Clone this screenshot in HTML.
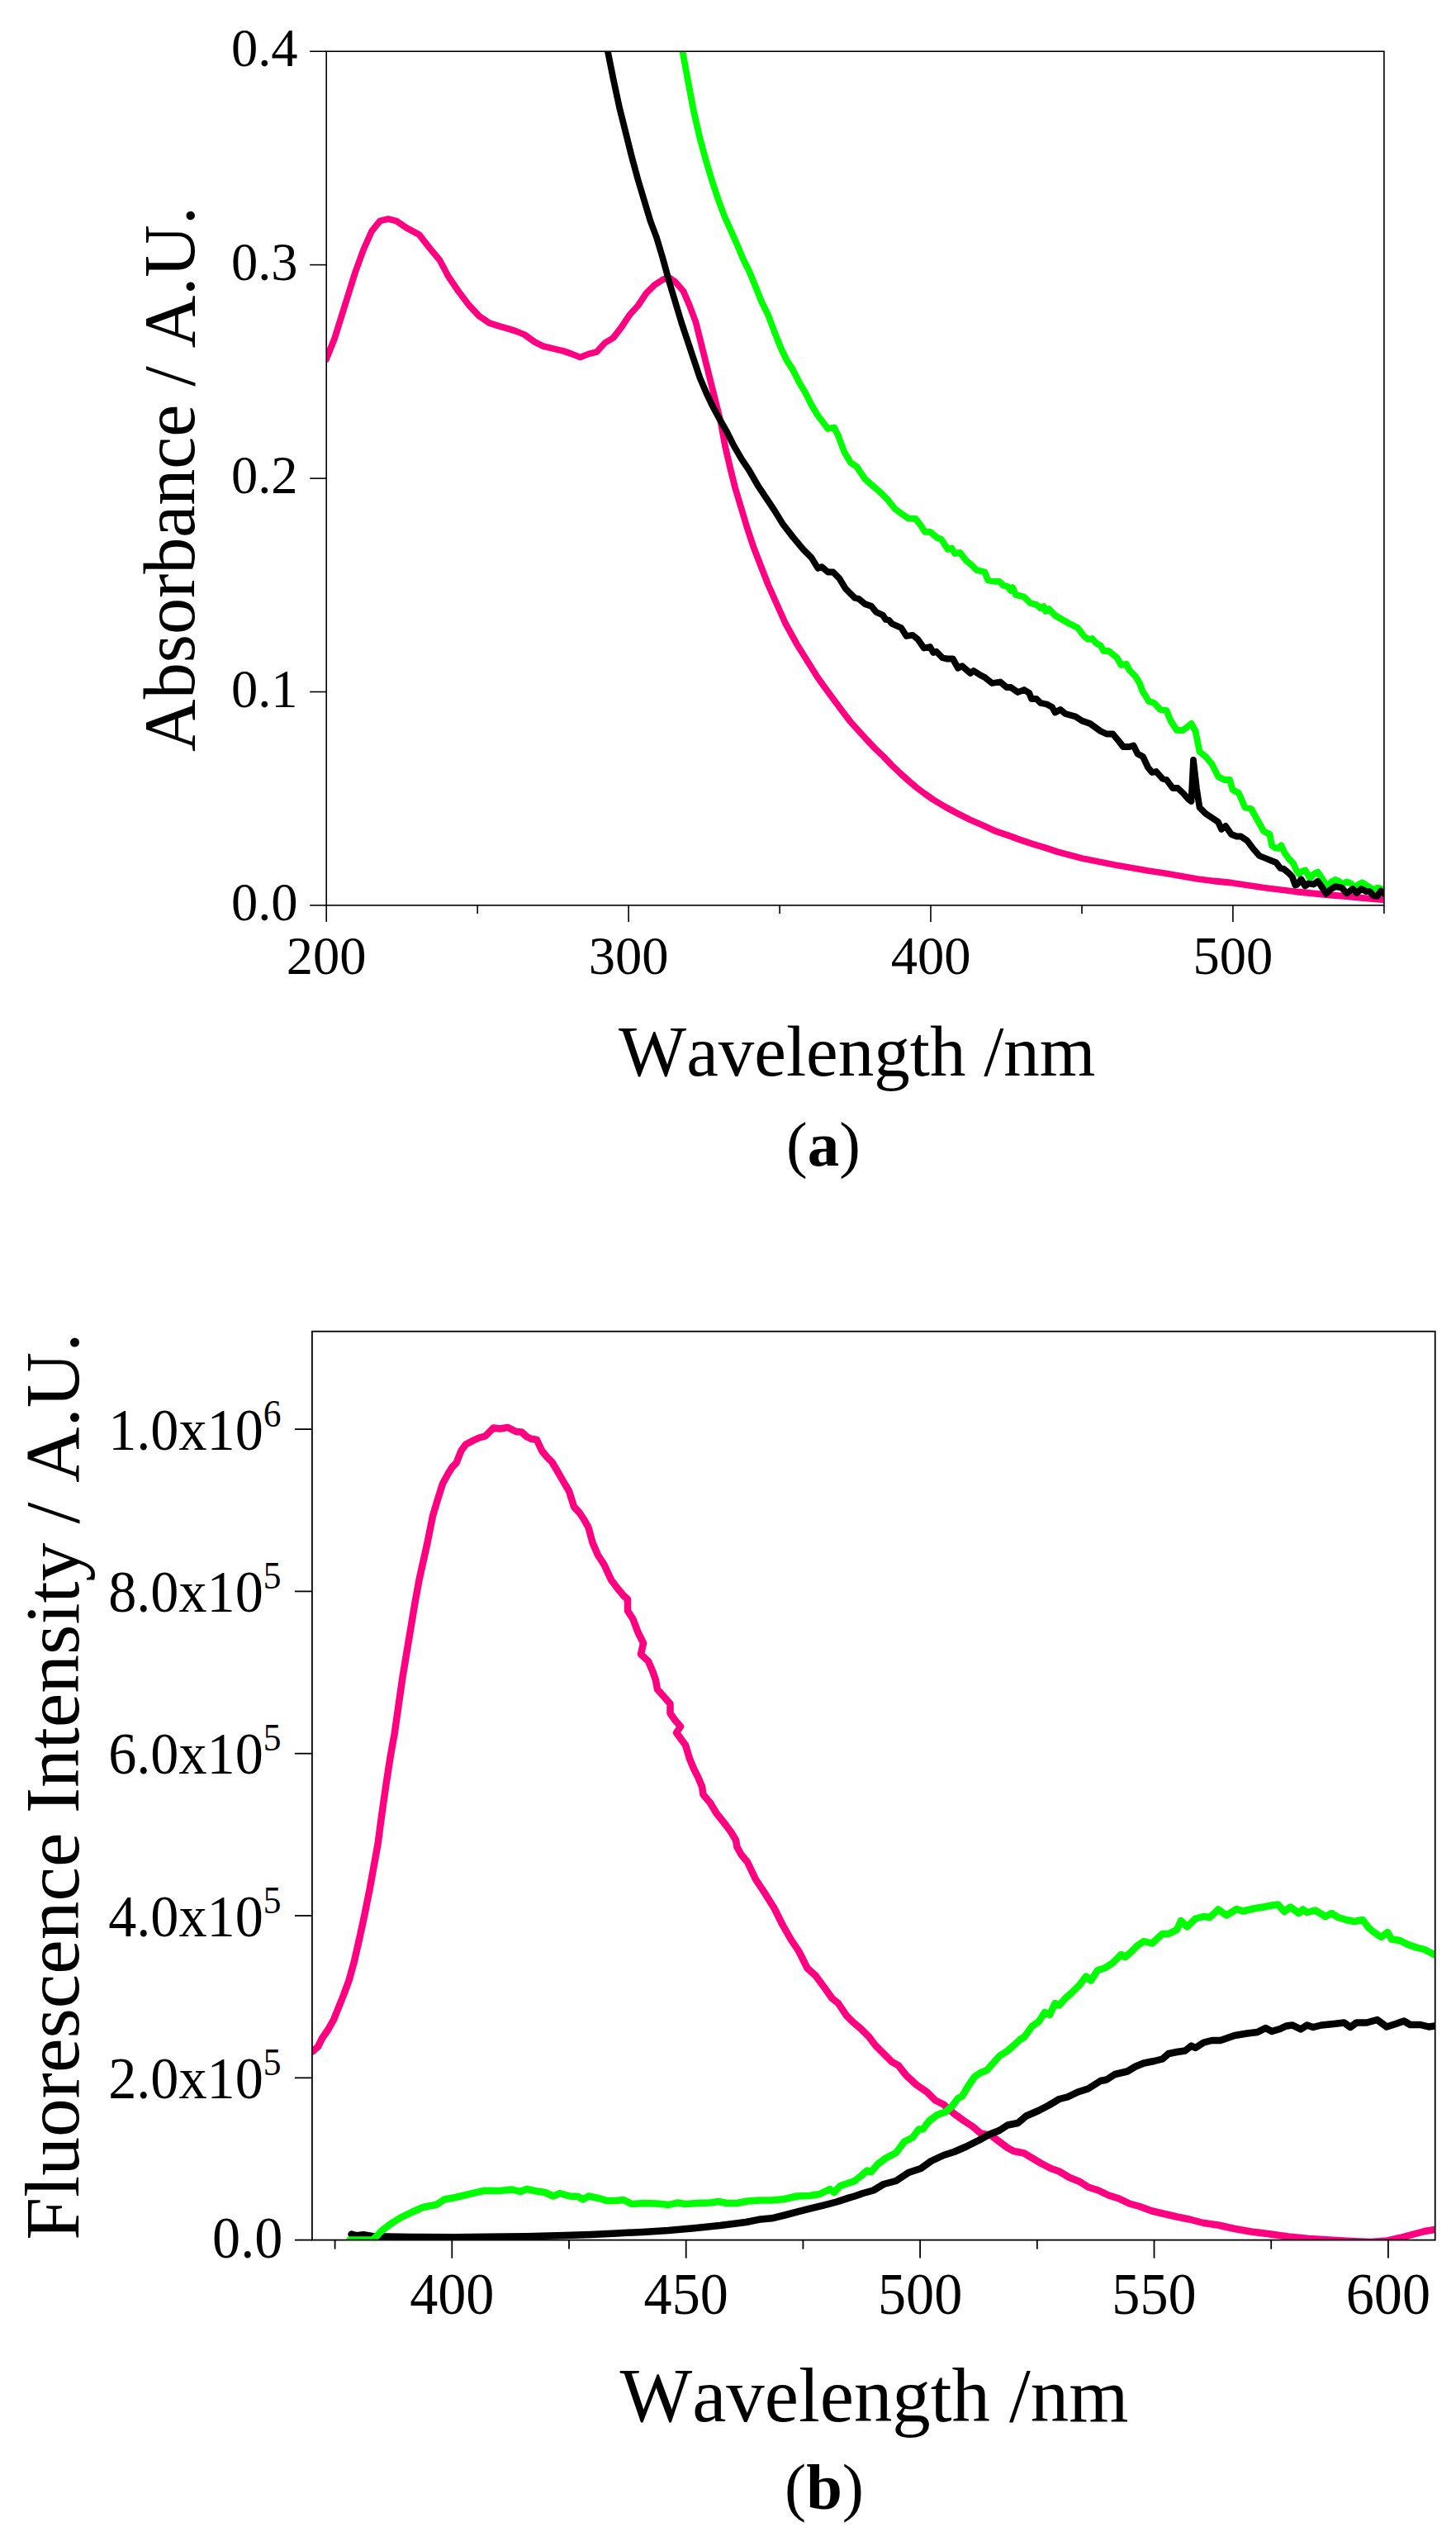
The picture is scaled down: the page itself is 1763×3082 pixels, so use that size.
<!DOCTYPE html>
<html lang="en"><head><meta charset="utf-8"><title>Absorbance and fluorescence spectra</title>
<style>html,body{margin:0;padding:0;background:#fff}svg{display:block}text{font-family:"Liberation Serif","Times New Roman",serif;fill:#000}</style></head><body>
<svg width="1763" height="3082" viewBox="0 0 1763 3082">
<rect width="1763" height="3082" fill="#fff"/>
<clipPath id="ca"><rect x="395.2" y="62.2" width="1280.7" height="1033.7"/></clipPath>
<g clip-path="url(#ca)" fill="none" stroke-linejoin="round" stroke-linecap="round" stroke-width="7.8">
<path d="M395.0,435.0 L405.0,410.0 L417.5,370.0 L430.0,330.0 L440.0,302.5 L450.0,280.0 L460.0,267.5 L470.0,265.0 L480.0,267.5 L492.5,276.0 L507.5,284.0 L520.0,300.0 L532.5,315.0 L542.5,334.0 L555.0,352.5 L567.5,369.0 L580.0,382.5 L592.5,391.0 L605.0,395.0 L617.5,398.5 L625.0,401.0 L635.0,405.0 L647.5,414.0 L657.5,419.0 L670.0,422.0 L682.5,425.0 L692.5,428.5 L702.5,432.5 L712.5,428.5 L722.5,426.0 L732.5,415.0 L742.5,409.0 L752.5,396.0 L762.5,381.0 L772.5,370.0 L782.5,355.0 L792.5,345.0 L802.5,338.5 L810.0,336.0 L817.5,341.0 L827.5,352.5 L835.0,370.0 L842.5,390.0 L850.0,420.0 L857.5,450.0 L865.0,480.0 L872.5,510.0 L878.0,540.0 L883.8,565.0 L890.0,590.0 L897.5,615.0 L905.0,640.0 L912.5,662.5 L921.2,685.0 L930.0,707.5 L940.0,730.0 L951.2,755.0 L965.0,780.0 L977.5,800.0 L990.0,820.0 L1000.0,834.0 L1010.0,847.5 L1020.0,861.0 L1030.0,874.0 L1040.0,885.0 L1050.0,896.0 L1060.0,906.5 L1070.0,916.0 L1080.0,926.5 L1090.0,936.0 L1100.0,945.0 L1110.0,953.5 L1120.0,961.0 L1130.0,968.0 L1145.0,977.0 L1160.0,985.0 L1175.0,992.5 L1190.0,999.0 L1205.0,1006.0 L1220.0,1011.0 L1235.0,1016.5 L1250.0,1021.5 L1265.0,1026.0 L1280.0,1031.0 L1295.0,1035.0 L1310.0,1039.0 L1330.0,1043.0 L1350.0,1047.0 L1370.0,1050.5 L1390.0,1054.0 L1410.0,1057.0 L1430.0,1060.5 L1450.0,1064.0 L1470.0,1066.5 L1490.0,1068.5 L1510.0,1071.5 L1530.0,1074.5 L1550.0,1077.0 L1570.0,1079.5 L1590.0,1081.5 L1610.0,1083.5 L1630.0,1085.0 L1650.0,1087.0 L1674.0,1089.0" stroke="#ff0080"/>
<path d="M826.5,62.5 L832.5,95.0 L840.0,135.0 L847.5,167.5 L855.0,195.0 L862.5,220.0 L870.0,242.5 L877.5,262.5 L885.0,279.0 L892.5,296.0 L900.0,314.0 L907.5,329.0 L915.0,347.5 L922.5,366.0 L930.0,381.0 L937.5,401.0 L945.0,420.0 L952.5,436.0 L960.0,447.5 L967.5,462.5 L975.0,475.0 L982.5,490.0 L990.0,502.5 L997.5,512.5 L1002.5,519.0 L1010.0,517.5 L1015.0,527.5 L1022.5,547.5 L1030.0,560.0 L1037.5,565.0 L1040.0,568.8 L1047.5,580.0 L1057.5,588.8 L1065.0,595.0 L1075.0,605.0 L1083.8,616.2 L1092.5,622.5 L1100.0,627.5 L1108.8,628.0 L1115.0,636.2 L1120.0,643.8 L1126.2,643.8 L1135.0,651.2 L1140.0,653.0 L1147.5,665.0 L1152.5,663.8 L1156.2,670.0 L1162.5,668.8 L1170.0,678.8 L1176.2,683.8 L1182.5,690.0 L1192.5,692.5 L1196.2,702.5 L1205.0,703.8 L1210.0,703.8 L1215.0,708.8 L1220.0,710.0 L1223.8,715.0 L1226.2,711.2 L1230.0,720.0 L1240.0,722.5 L1247.5,730.0 L1255.0,732.0 L1260.0,736.2 L1263.8,734.2 L1266.2,740.0 L1270.0,737.0 L1277.5,745.0 L1286.2,750.0 L1295.0,755.0 L1305.0,760.0 L1312.5,770.0 L1317.5,773.8 L1322.5,773.0 L1327.5,778.8 L1332.5,781.2 L1336.2,788.0 L1342.5,788.0 L1352.5,796.2 L1357.5,805.0 L1363.8,803.8 L1367.5,811.2 L1375.0,818.8 L1380.0,827.5 L1383.8,837.5 L1385.0,839.0 L1391.0,849.0 L1397.5,851.0 L1405.0,859.0 L1412.5,860.0 L1417.5,872.5 L1425.0,884.0 L1432.5,884.0 L1437.5,880.0 L1442.5,876.0 L1447.5,885.0 L1452.5,910.0 L1460.0,916.0 L1467.5,925.0 L1475.0,940.0 L1482.5,944.0 L1489.0,944.0 L1492.5,956.0 L1500.0,960.0 L1507.5,977.5 L1515.0,979.0 L1522.5,992.5 L1530.0,1006.0 L1537.5,1010.0 L1540.0,1023.6 L1544.1,1026.4 L1547.7,1027.0 L1551.3,1023.3 L1555.5,1032.4 L1560.6,1039.6 L1565.8,1044.7 L1569.9,1054.0 L1573.0,1058.1 L1576.1,1055.0 L1580.7,1053.5 L1584.3,1060.2 L1586.4,1063.3 L1590.5,1058.1 L1595.6,1055.5 L1600.8,1063.3 L1605.9,1071.5 L1608.0,1073.6 L1612.1,1067.4 L1616.8,1064.8 L1621.4,1066.9 L1625.5,1070.5 L1630.7,1067.4 L1635.8,1069.5 L1639.9,1074.6 L1645.1,1070.5 L1649.7,1068.4 L1654.4,1071.5 L1659.5,1074.6 L1663.6,1078.7 L1667.7,1074.6 L1671.9,1075.6 L1676.0,1078.7" stroke="#00ff00"/>
<path d="M736.0,62.5 L742.5,95.0 L750.0,130.0 L757.5,160.0 L765.0,190.0 L772.5,217.5 L780.0,242.5 L787.5,267.5 L795.0,287.5 L802.5,312.5 L810.0,340.0 L817.5,365.0 L825.0,390.0 L832.5,412.5 L840.0,435.0 L847.5,457.5 L855.0,475.0 L862.5,491.0 L870.0,505.0 L880.0,522.5 L888.8,540.0 L897.5,555.0 L907.5,570.0 L917.5,587.5 L927.5,602.5 L937.5,617.5 L947.5,633.8 L960.0,650.0 L972.5,665.0 L982.5,675.0 L990.5,688.0 L995.0,686.2 L1002.5,692.5 L1008.8,692.5 L1016.2,700.0 L1023.8,712.5 L1035.0,723.8 L1040.0,725.0 L1047.5,731.2 L1055.0,733.8 L1061.2,741.2 L1068.8,744.5 L1072.5,750.0 L1076.2,750.5 L1080.0,755.0 L1091.2,760.0 L1097.5,770.0 L1105.0,768.8 L1111.2,773.8 L1118.8,784.5 L1126.2,783.0 L1130.0,790.0 L1133.8,788.8 L1141.2,796.2 L1146.2,797.5 L1153.8,797.5 L1160.0,808.8 L1165.0,806.2 L1175.0,815.0 L1178.8,812.0 L1187.5,817.5 L1192.5,820.0 L1201.2,827.0 L1211.2,825.5 L1218.8,832.0 L1223.8,832.0 L1232.5,838.0 L1240.0,835.0 L1246.2,838.8 L1249.0,846.0 L1255.0,846.0 L1260.0,851.0 L1267.5,852.5 L1274.0,856.0 L1277.5,862.5 L1284.0,859.0 L1290.0,864.0 L1302.5,867.5 L1310.0,872.5 L1320.0,876.0 L1332.5,885.0 L1340.0,888.5 L1347.5,888.5 L1355.0,897.5 L1360.0,904.0 L1367.5,904.0 L1372.5,902.5 L1377.5,912.5 L1384.0,916.0 L1390.0,929.0 L1395.0,935.0 L1400.0,934.0 L1407.5,942.5 L1412.5,944.0 L1420.0,954.0 L1426.0,954.0 L1432.5,960.0 L1439.0,967.5 L1442.5,970.0 L1445.0,920.0 L1449.0,955.0 L1452.5,977.5 L1460.0,985.0 L1467.5,990.0 L1475.0,995.0 L1479.0,1004.0 L1484.0,1000.0 L1491.0,1010.0 L1497.5,1012.5 L1502.5,1012.5 L1510.0,1017.5 L1517.5,1027.5 L1525.0,1036.0 L1532.5,1039.0 L1540.0,1042.1 L1545.2,1044.2 L1550.3,1050.9 L1554.4,1051.9 L1559.6,1056.1 L1564.7,1061.2 L1568.3,1071.5 L1570.9,1070.5 L1575.5,1064.3 L1580.2,1072.5 L1584.3,1069.5 L1590.5,1070.5 L1595.6,1066.9 L1599.8,1072.5 L1605.9,1081.8 L1611.1,1076.7 L1616.8,1073.1 L1624.5,1074.6 L1630.7,1081.3 L1637.9,1076.1 L1643.0,1080.8 L1648.2,1076.1 L1654.4,1079.2 L1658.5,1079.2 L1663.6,1084.4 L1667.7,1084.9 L1671.9,1078.7 L1676.0,1081.8" stroke="#000"/>
</g>
<g stroke="#000" stroke-width="1.6" fill="none">
<rect x="395.2" y="62.2" width="1280.7" height="1033.7"/>
<line x1="375.2" y1="1095.9" x2="395.2" y2="1095.9"/>
<line x1="375.2" y1="837.5" x2="395.2" y2="837.5"/>
<line x1="375.2" y1="579.1" x2="395.2" y2="579.1"/>
<line x1="375.2" y1="320.6" x2="395.2" y2="320.6"/>
<line x1="375.2" y1="62.2" x2="395.2" y2="62.2"/>
<line x1="395.2" y1="1095.9" x2="395.2" y2="1115.9"/>
<line x1="578.2" y1="1095.9" x2="578.2" y2="1105.9"/>
<line x1="761.1" y1="1095.9" x2="761.1" y2="1115.9"/>
<line x1="944.1" y1="1095.9" x2="944.1" y2="1105.9"/>
<line x1="1127.0" y1="1095.9" x2="1127.0" y2="1115.9"/>
<line x1="1310.0" y1="1095.9" x2="1310.0" y2="1105.9"/>
<line x1="1492.9" y1="1095.9" x2="1492.9" y2="1115.9"/>
<line x1="1675.9" y1="1095.9" x2="1675.9" y2="1105.9"/>
</g>
<text x="360.6" y="1113.9" font-size="64.5" text-anchor="end">0.0</text>
<text x="360.6" y="855.5" font-size="64.5" text-anchor="end">0.1</text>
<text x="360.6" y="597.1" font-size="64.5" text-anchor="end">0.2</text>
<text x="360.6" y="338.6" font-size="64.5" text-anchor="end">0.3</text>
<text x="360.6" y="80.2" font-size="64.5" text-anchor="end">0.4</text>
<text x="395.2" y="1179" font-size="64.5" text-anchor="middle">200</text>
<text x="761.1" y="1179" font-size="64.5" text-anchor="middle">300</text>
<text x="1127.0" y="1179" font-size="64.5" text-anchor="middle">400</text>
<text x="1492.9" y="1179" font-size="64.5" text-anchor="middle">500</text>
<text x="1037.8" y="1302.4" font-size="87" text-anchor="middle" style="font-kerning:none">Wavelength /nm</text>
<text transform="translate(235,580) rotate(-90)" font-size="88" text-anchor="middle" style="font-kerning:none">Absorbance / A.U.</text>
<text x="997" y="1410.5" font-size="77" text-anchor="middle">(<tspan font-weight="bold">a</tspan>)</text>
<clipPath id="cb"><rect x="377.9" y="1611.7" width="1359.8000000000002" height="1099.8999999999999"/></clipPath>
<g clip-path="url(#cb)" fill="none" stroke-linejoin="round" stroke-linecap="round" stroke-width="8.5">
<path d="M378.5,2483.5 L385.0,2477.5 L390.0,2467.5 L397.5,2456.5 L404.0,2445.0 L410.0,2430.0 L416.0,2415.0 L422.5,2397.5 L429.0,2374.0 L435.0,2347.5 L441.0,2320.0 L447.5,2287.5 L452.5,2260.0 L457.5,2232.5 L462.5,2195.0 L467.5,2160.0 L472.5,2127.5 L476.5,2105.0 L477.5,2100.0 L482.5,2065.0 L487.5,2030.0 L492.5,2000.0 L497.5,1970.0 L502.5,1940.0 L507.5,1912.5 L512.5,1890.0 L517.5,1867.5 L524.0,1835.0 L530.0,1815.0 L536.0,1796.0 L542.5,1784.0 L547.5,1776.0 L552.5,1771.0 L558.5,1756.0 L564.0,1748.5 L572.5,1744.0 L580.0,1740.5 L587.5,1738.5 L597.5,1728.5 L605.0,1729.5 L615.0,1728.0 L625.0,1733.0 L631.5,1733.5 L637.5,1739.0 L642.5,1741.5 L650.0,1743.0 L656.0,1756.0 L662.5,1764.0 L668.5,1770.0 L675.0,1781.0 L682.5,1794.0 L689.0,1805.0 L695.0,1824.0 L701.5,1831.0 L707.5,1840.0 L712.5,1849.0 L717.5,1867.5 L724.0,1882.5 L731.5,1894.0 L740.0,1912.5 L747.5,1922.5 L755.0,1931.5 L760.0,1936.0 L760.0,1950.0 L766.5,1960.0 L772.5,1976.0 L779.0,1989.0 L776.0,2002.5 L785.0,2011.0 L790.0,2022.5 L794.0,2034.0 L796.0,2045.0 L804.0,2054.0 L811.5,2062.5 L811.5,2074.0 L817.5,2082.5 L824.0,2090.0 L819.0,2097.5 L830.0,2112.5 L835.0,2129.0 L840.0,2141.0 L845.0,2151.0 L850.0,2162.5 L851.5,2172.5 L860.0,2182.5 L867.5,2195.0 L877.5,2207.5 L885.0,2217.5 L891.0,2227.5 L892.5,2236.0 L897.5,2245.0 L905.0,2254.0 L915.0,2275.0 L925.0,2290.0 L937.5,2310.0 L947.5,2330.0 L957.5,2347.5 L967.5,2362.5 L977.5,2382.5 L987.5,2391.5 L997.5,2405.0 L1007.5,2419.0 L1015.0,2425.0 L1025.0,2440.0 L1032.5,2447.5 L1042.5,2456.0 L1052.5,2466.0 L1060.0,2476.0 L1070.0,2486.0 L1080.0,2496.0 L1087.5,2500.0 L1097.5,2512.5 L1110.0,2524.0 L1122.5,2532.5 L1132.5,2542.5 L1142.5,2547.5 L1155.0,2558.5 L1167.5,2567.5 L1177.5,2574.0 L1187.5,2582.5 L1200.0,2585.0 L1210.0,2592.5 L1220.0,2600.0 L1227.5,2604.0 L1240.0,2606.5 L1250.0,2612.5 L1260.0,2618.5 L1272.5,2625.0 L1282.5,2628.5 L1295.0,2636.0 L1307.5,2641.0 L1317.5,2647.5 L1330.0,2651.5 L1342.5,2657.5 L1355.0,2661.5 L1367.5,2667.5 L1380.0,2671.0 L1395.0,2676.5 L1410.0,2680.0 L1425.0,2683.5 L1440.0,2686.5 L1457.5,2691.0 L1475.0,2693.5 L1495.0,2698.0 L1515.0,2701.5 L1535.0,2704.0 L1560.0,2707.5 L1585.0,2710.0 L1610.0,2711.5 L1635.0,2713.0 L1660.0,2714.0 L1680.0,2712.5 L1695.0,2709.0 L1710.0,2705.0 L1725.0,2701.0 L1737.5,2699.0" stroke="#ff0080"/>
<path d="M425.5,2704.6 L432.0,2706.3 L440.0,2705.3 L452.0,2707.2 L500.0,2708.0 L550.0,2708.2 L590.0,2707.8 L637.0,2707.2 L684.0,2706.0 L715.3,2705.0 L746.6,2703.4 L778.0,2701.9 L809.2,2700.0 L840.5,2697.2 L871.9,2694.0 L903.2,2690.0 L918.8,2686.8 L934.5,2685.3 L950.2,2681.5 L965.8,2677.4 L981.5,2673.4 L997.1,2669.6 L1012.8,2665.5 L1028.5,2660.4 L1035.0,2658.5 L1045.0,2655.0 L1057.5,2651.5 L1070.0,2644.0 L1085.0,2640.0 L1100.0,2630.0 L1115.0,2625.0 L1127.5,2616.0 L1142.5,2609.0 L1155.0,2605.0 L1170.0,2598.5 L1185.0,2591.0 L1197.5,2584.0 L1210.0,2579.0 L1220.0,2572.5 L1232.5,2570.0 L1242.5,2561.5 L1257.5,2555.0 L1270.0,2548.5 L1282.5,2541.0 L1292.5,2538.5 L1305.0,2532.5 L1317.5,2528.5 L1332.5,2519.0 L1340.0,2517.5 L1350.0,2511.0 L1365.0,2507.5 L1375.0,2501.5 L1385.0,2497.5 L1397.5,2495.0 L1407.5,2492.5 L1415.0,2486.0 L1425.0,2484.0 L1435.0,2482.5 L1442.5,2476.5 L1447.5,2479.0 L1457.5,2472.5 L1467.5,2470.0 L1477.5,2470.0 L1485.0,2467.5 L1495.0,2464.0 L1510.0,2461.5 L1522.5,2460.0 L1532.5,2455.0 L1540.0,2459.0 L1550.0,2456.0 L1557.5,2452.5 L1565.0,2451.5 L1575.0,2456.5 L1582.5,2451.5 L1590.0,2454.0 L1600.0,2451.5 L1615.0,2450.0 L1627.5,2448.5 L1635.0,2454.0 L1642.5,2448.5 L1655.0,2448.5 L1667.5,2445.0 L1679.0,2453.5 L1690.0,2450.0 L1700.0,2446.5 L1707.5,2451.0 L1720.0,2451.0 L1730.0,2453.5 L1737.5,2452.5" stroke="#000"/>
<path d="M423.7,2711.6 L451.5,2711.4 L463.0,2699.6 L474.6,2691.0 L486.0,2684.0 L499.6,2677.5 L513.0,2671.7 L528.5,2668.8 L538.0,2662.5 L551.5,2660.0 L570.8,2655.4 L586.0,2651.8 L605.0,2652.0 L620.0,2650.5 L630.0,2653.0 L637.5,2650.0 L650.0,2652.5 L660.0,2654.0 L670.0,2658.5 L677.5,2655.0 L690.0,2658.5 L700.0,2659.0 L706.0,2662.5 L712.5,2658.5 L725.0,2661.0 L735.0,2664.0 L745.0,2664.0 L755.0,2663.0 L765.0,2668.0 L780.0,2667.0 L795.0,2667.5 L810.0,2669.0 L820.0,2666.5 L830.0,2668.0 L845.0,2667.0 L860.0,2666.5 L870.0,2665.0 L880.0,2667.0 L892.5,2667.0 L905.0,2664.5 L920.0,2663.5 L935.0,2663.5 L950.0,2662.0 L965.0,2658.5 L980.0,2658.0 L992.5,2656.0 L1005.0,2650.0 L1010.0,2654.0 L1017.5,2646.0 L1028.0,2642.5 L1035.0,2640.0 L1042.5,2634.0 L1050.0,2627.5 L1055.0,2629.0 L1062.5,2620.0 L1072.5,2612.5 L1085.0,2606.0 L1095.0,2592.5 L1105.0,2587.5 L1112.5,2577.5 L1117.5,2577.5 L1125.0,2567.5 L1135.0,2560.0 L1145.0,2556.5 L1152.5,2550.0 L1160.0,2540.0 L1165.0,2537.5 L1172.5,2525.0 L1180.0,2514.0 L1187.5,2509.0 L1195.0,2506.0 L1202.5,2497.5 L1210.0,2489.0 L1220.0,2482.5 L1227.5,2476.0 L1235.0,2469.0 L1240.0,2466.0 L1250.0,2452.5 L1257.5,2447.5 L1265.0,2436.0 L1271.0,2439.0 L1277.5,2425.0 L1282.5,2427.5 L1290.0,2419.0 L1297.5,2412.5 L1307.5,2402.5 L1315.0,2392.5 L1321.0,2397.5 L1329.0,2385.0 L1337.5,2382.5 L1347.5,2376.0 L1357.5,2366.0 L1362.5,2369.0 L1370.0,2362.5 L1377.5,2355.0 L1385.0,2350.0 L1395.0,2352.5 L1407.5,2341.0 L1415.0,2341.0 L1425.0,2336.0 L1430.0,2325.0 L1437.5,2332.5 L1447.5,2322.5 L1457.5,2320.0 L1465.0,2321.0 L1475.0,2311.5 L1485.0,2318.5 L1497.5,2311.0 L1505.0,2313.5 L1520.0,2310.0 L1530.0,2308.5 L1540.0,2306.5 L1547.5,2305.5 L1555.0,2314.0 L1562.5,2308.5 L1572.5,2316.0 L1577.5,2311.5 L1582.5,2315.0 L1592.5,2312.5 L1605.0,2320.0 L1612.5,2316.0 L1620.0,2321.0 L1630.0,2324.0 L1640.0,2326.0 L1650.0,2324.0 L1657.5,2334.0 L1665.0,2340.0 L1672.5,2345.0 L1680.0,2339.0 L1685.0,2347.5 L1695.0,2349.0 L1705.0,2354.0 L1715.0,2357.5 L1725.0,2360.0 L1737.5,2366.5" stroke="#00ff00"/>
</g>
<g stroke="#000" stroke-width="1.8" fill="none">
<rect x="377.9" y="1611.7" width="1359.8000000000002" height="1099.8999999999999"/>
<line x1="356.9" y1="2711.6" x2="377.9" y2="2711.6"/>
<line x1="356.9" y1="2515.3" x2="377.9" y2="2515.3"/>
<line x1="356.9" y1="2319.0" x2="377.9" y2="2319.0"/>
<line x1="356.9" y1="2122.7" x2="377.9" y2="2122.7"/>
<line x1="356.9" y1="1926.4" x2="377.9" y2="1926.4"/>
<line x1="356.9" y1="1730.1" x2="377.9" y2="1730.1"/>
<line x1="405.6" y1="2711.6" x2="405.6" y2="2722.6"/>
<line x1="547.3" y1="2711.6" x2="547.3" y2="2733.6"/>
<line x1="689.0" y1="2711.6" x2="689.0" y2="2722.6"/>
<line x1="830.7" y1="2711.6" x2="830.7" y2="2733.6"/>
<line x1="972.4" y1="2711.6" x2="972.4" y2="2722.6"/>
<line x1="1114.1" y1="2711.6" x2="1114.1" y2="2733.6"/>
<line x1="1255.8" y1="2711.6" x2="1255.8" y2="2722.6"/>
<line x1="1397.5" y1="2711.6" x2="1397.5" y2="2733.6"/>
<line x1="1539.2" y1="2711.6" x2="1539.2" y2="2722.6"/>
<line x1="1680.9" y1="2711.6" x2="1680.9" y2="2733.6"/>
</g>
<text transform="translate(342.3,2733.2) scale(1,1.045)" font-size="68.2" text-anchor="end">0.0</text>
<text transform="translate(340.5,2539.9) scale(1,1.045)" font-size="68.2" text-anchor="end">2.0x10<tspan font-size="43.5" dy="-26.8">5</tspan></text>
<text transform="translate(340.5,2343.6) scale(1,1.045)" font-size="68.2" text-anchor="end">4.0x10<tspan font-size="43.5" dy="-26.8">5</tspan></text>
<text transform="translate(340.5,2147.3) scale(1,1.045)" font-size="68.2" text-anchor="end">6.0x10<tspan font-size="43.5" dy="-26.8">5</tspan></text>
<text transform="translate(340.5,1951.0) scale(1,1.045)" font-size="68.2" text-anchor="end">8.0x10<tspan font-size="43.5" dy="-26.8">5</tspan></text>
<text transform="translate(340.5,1754.7) scale(1,1.045)" font-size="68.2" text-anchor="end">1.0x10<tspan font-size="43.5" dy="-26.8">6</tspan></text>
<text transform="translate(547.3,2801.4) scale(1,1.045)" font-size="68.2" text-anchor="middle">400</text>
<text transform="translate(830.7,2801.4) scale(1,1.045)" font-size="68.2" text-anchor="middle">450</text>
<text transform="translate(1114.1,2801.4) scale(1,1.045)" font-size="68.2" text-anchor="middle">500</text>
<text transform="translate(1397.5,2801.4) scale(1,1.045)" font-size="68.2" text-anchor="middle">550</text>
<text transform="translate(1680.9,2801.4) scale(1,1.045)" font-size="68.2" text-anchor="middle">600</text>
<text x="1058.5" y="2930.7" font-size="92.8" text-anchor="middle" style="font-kerning:none">Wavelength /nm</text>
<text transform="translate(95,2162.5) rotate(-90)" font-size="93.5" text-anchor="middle" style="font-kerning:none">Fluorescence Intensity / A.U.</text>
<text x="998" y="3036.5" font-size="78.5" text-anchor="middle">(<tspan font-weight="bold">b</tspan>)</text>
</svg></body></html>
